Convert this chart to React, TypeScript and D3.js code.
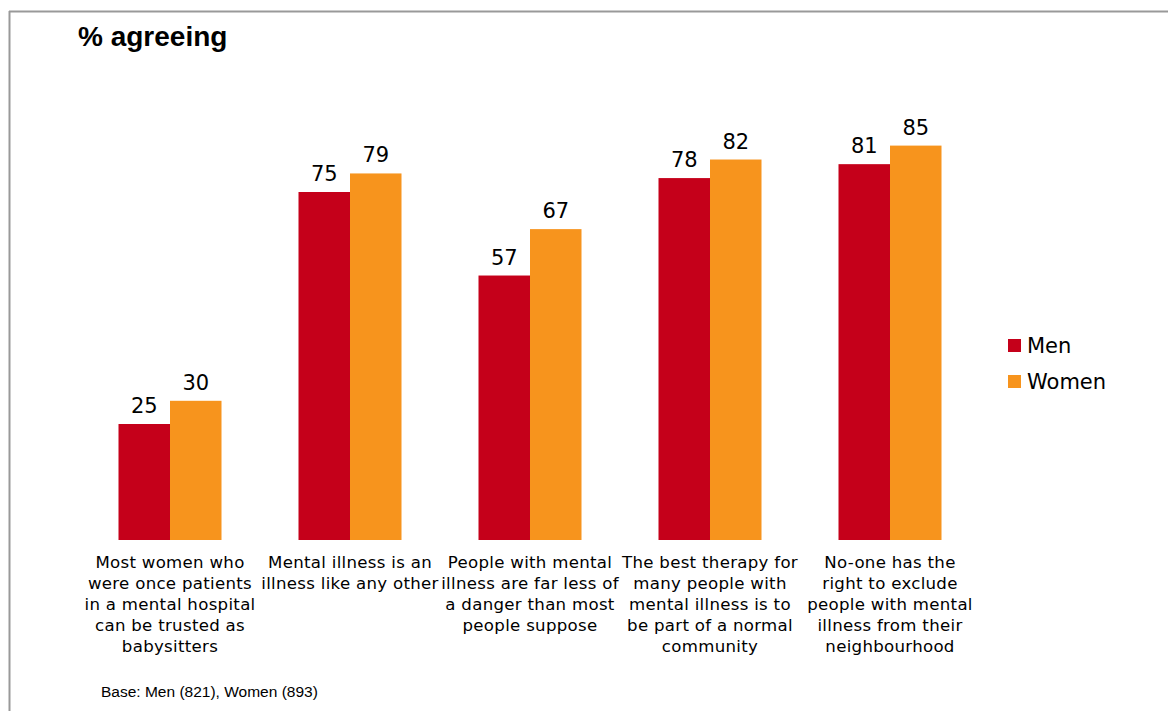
import React from "react";
import * as d3 from "d3";

const categories = [
  ["Most women who", "were once patients", "in a mental hospital", "can be trusted as", "babysitters"],
  ["Mental illness is an", "illness like any other"],
  ["People with mental", "illness are far less of", "a danger than most", "people suppose"],
  ["The best therapy for", "many people with", "mental illness is to", "be part of a normal", "community"],
  ["No-one has the", "right to exclude", "people with mental", "illness from their", "neighbourhood"],
];
const seriesNames = ["Men", "Women"];
const menValues = [25, 75, 57, 78, 81];
const womenValues = [30, 79, 67, 82, 85];
const colors = ["#C5001A", "#F7941D"];

const W = 1168;
const H = 711;
const font = "DejaVu Sans, Verdana, sans-serif";
const arial = "Liberation Sans, Arial, sans-serif";

export default function App() {
  const x = d3
    .scaleBand<number>()
    .domain(d3.range(categories.length))
    .range([80, 980])
    .paddingInner(77 / 180)
    .paddingOuter(77 / 360);
  const x1 = d3.scaleBand<number>().domain([0, 1]).range([0, x.bandwidth()]);
  const y = d3.scaleLinear().domain([0, 100]).range([540, 76]);
  const series = [menValues, womenValues];

  return (
    <svg
      width={W}
      height={H}
      style={{ position: "absolute", left: 0, top: 0, background: "#fff" }}
    >
      <line x1={9.5} y1={11} x2={9.5} y2={H} stroke="#999" strokeWidth={2} />
      <line x1={9} y1={11.5} x2={W} y2={11.5} stroke="#999" strokeWidth={2} />
      <text x={78} y={46} fontFamily={arial} fontWeight="bold" fontSize={28} fill="#000">
        % agreeing
      </text>
      {series.map((vals, s) =>
        vals.map((v, i) => (
          <g key={`${s}-${i}`}>
            <rect
              x={(x(i) ?? 0) + (x1(s) ?? 0)}
              y={y(v)}
              width={x1.bandwidth()}
              height={y(0) - y(v)}
              fill={colors[s]}
            />
            <text
              x={(x(i) ?? 0) + (x1(s) ?? 0) + x1.bandwidth() / 2}
              y={y(v) - 11}
              textAnchor="middle"
              fontFamily={font}
              fontSize={21}
              fill="#000"
            >
              {v}
            </text>
          </g>
        ))
      )}
      {categories.map((lines, i) => (
        <text
          key={i}
          textAnchor="middle"
          fontFamily={font}
          fontSize={16.6}
          letterSpacing={0.3}
          fill="#000"
        >
          {lines.map((l, j) => (
            <tspan key={j} x={(x(i) ?? 0) + x.bandwidth() / 2} y={568 + j * 21}>
              {l}
            </tspan>
          ))}
        </text>
      ))}
      {seriesNames.map((n, s) => (
        <g key={n} transform={`translate(1008, ${339 + s * 36})`}>
          <rect x={0} y={0} width={13} height={13} fill={colors[s]} />
          <text x={19} y={14} fontFamily={font} fontSize={21} fill="#000">
            {n}
          </text>
        </g>
      ))}
      <text x={101} y={697} fontFamily={arial} fontSize={15.5} fill="#000">
        Base: Men (821), Women (893)
      </text>
    </svg>
  );
}
